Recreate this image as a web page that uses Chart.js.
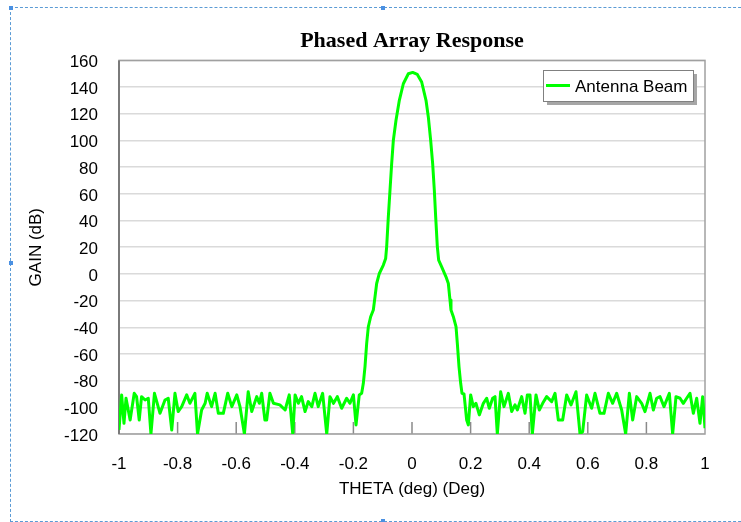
<!DOCTYPE html>
<html>
<head>
<meta charset="utf-8">
<script src="https://cdn.jsdelivr.net/npm/chart.js@4.4.1/dist/chart.umd.min.js"></script>
<style>
  html, body { margin: 0; padding: 0; background: #fff; }
  #wrap { position: relative; width: 741px; height: 522px; overflow: hidden; }
  canvas { position: absolute; left: 0; top: 0; }
  #frame { position: absolute; left: 10px; top: 7px; width: 760px; height: 513px;
           border-left: 1px dashed #5b9bd5; border-top: 1px dashed #5b9bd5; border-bottom: 1px dashed #5b9bd5; }
  .h { position: absolute; width: 4px; height: 4px; background: #4a90e2; }
</style>
</head>
<body>
<div id="wrap">
  <canvas id="c" width="741" height="522"></canvas>
  <div id="frame"></div>
  <div class="h" style="left:9px;top:6px"></div>
  <div class="h" style="left:381px;top:6px"></div>
  <div class="h" style="left:9px;top:261px"></div>
  <div class="h" style="left:381px;top:519px"></div>
</div>
<script>
// ---- data ----
const chartTitle = 'Phased Array Response';
const seriesLabel = 'Antenna Beam';
const xAxisTitle = 'THETA (deg) (Deg)';
const yAxisTitle = 'GAIN (dB)';
const yTickMin = -120, yTickMax = 160, yTickStep = 20;
const xTickMin = -1, xTickMax = 1, xTickStep = 0.2;

const thetaLeftNoise = [-1.000,-0.991,-0.983,-0.976,-0.962,-0.948,-0.940,-0.931,-0.923,-0.911,-0.900,-0.891,-0.879,-0.860,-0.843,-0.832,-0.820,-0.809,-0.798,-0.786,-0.769,-0.758,-0.741,-0.732,-0.718,-0.706,-0.699,-0.684,-0.672,-0.661,-0.644,-0.629,-0.615,-0.598,-0.587,-0.572,-0.559,-0.547,-0.530,-0.521,-0.513,-0.502,-0.496,-0.485,-0.473,-0.451,-0.433,-0.419,-0.407,-0.399,-0.388,-0.377,-0.365,-0.354,-0.342,-0.331,-0.320,-0.305,-0.291,-0.280,-0.268,-0.255,-0.240,-0.223,-0.212,-0.200,-0.191,-0.180];
const gainLeftNoise = [-117,-90.7,-112,-93.2,-109.5,-89.5,-92,-109.5,-92,-94.5,-93.2,-120,-89.5,-104.5,-94.5,-93.2,-117,-89.5,-103.2,-99.5,-90.7,-97,-89.5,-120,-102,-97,-89.5,-99.5,-89.5,-104.5,-104.5,-89.5,-99.5,-90.7,-99.5,-120,-88.3,-103.2,-92,-97,-89.5,-109.5,-109.5,-89.5,-97,-98.2,-102,-90.7,-120,-90.7,-97,-92,-103.2,-95.7,-99.5,-89.5,-99.5,-89.5,-120,-92,-97,-92,-100.7,-93.2,-97,-90.7,-113.2,-90.7];

const thetaMainLobe = [-0.1718,-0.1661,-0.1604,-0.1547,-0.1490,-0.1411,-0.1320,-0.1263,-0.1206,-0.1115,-0.0978,-0.0899,-0.0865,-0.0808,-0.0751,-0.0694,-0.0637,-0.0546,-0.0432,-0.0296,-0.0125,0.0023,0.0182,0.0330,0.0478,0.0557,0.0637,0.0705,0.0762,0.0808,0.0865,0.0910,0.1013,0.1160,0.1240,0.1297,0.1331,0.1411,0.1502,0.1547,0.1604,0.1661,0.1706];
const gainMainLobe = [-89.5,-82,-69.5,-52.1,-39.6,-32.1,-27.1,-17.2,-7.2,0.3,6.6,11.6,20.3,42.7,62.7,82.7,100.1,115.1,130.1,142.5,150,151,149.5,143.8,130.1,117.6,100.1,82.7,62.7,42.7,20.3,10.3,5.3,-2.2,-7.2,-19.6,-27.1,-32.1,-39.6,-52.1,-69.5,-82,-89.5];

const thetaRightNoise = [0.1775,0.1866,0.1923,0.2002,0.2093,0.2184,0.2298,0.2435,0.2548,0.2639,0.2753,0.2833,0.2912,0.3026,0.3140,0.3288,0.3402,0.3515,0.3595,0.3743,0.3857,0.3936,0.4027,0.4107,0.4232,0.4346,0.4460,0.4596,0.4767,0.4881,0.4994,0.5142,0.5279,0.5427,0.5597,0.5734,0.5825,0.5961,0.6132,0.6246,0.6416,0.6553,0.6701,0.6849,0.6985,0.7156,0.7292,0.7418,0.7531,0.7668,0.7838,0.7952,0.8123,0.8237,0.8350,0.8464,0.8601,0.8783,0.8896,0.9010,0.9147,0.9260,0.9374,0.9488,0.9602,0.9716,0.9829,0.9920,1.0000];
const gainRightNoise = [-90,-109.5,-113.2,-90.7,-99.5,-97,-105.7,-97,-93.2,-100.7,-93.2,-92,-120,-88.3,-99.5,-89.5,-103.2,-98.2,-102,-92,-104.5,-90.7,-90.7,-120,-90.7,-102,-97,-92,-95.7,-89.5,-109.5,-109.5,-90.7,-98.2,-88.3,-120,-118.2,-90.7,-100.7,-89.5,-104.5,-104.5,-89.5,-97,-89.5,-102,-120,-89.5,-109.5,-92,-97,-103.2,-89.5,-102,-93.2,-92,-99.5,-89.5,-120,-92,-93.2,-97,-93.2,-89.5,-104.5,-93.2,-112,-92,-115.7];

const thetaValues = [...thetaLeftNoise, ...thetaMainLobe, ...thetaRightNoise];
const gainValues = [...gainLeftNoise, ...gainMainLobe, ...gainRightNoise];
const points = thetaValues.map((t, i) => ({ x: t, y: gainValues[i] }));

const SANS = '"Liberation Sans", Arial, sans-serif';

const framePlugin = {
  id: 'frameAndTicks',
  beforeDatasetsDraw(chart) {
    const { ctx, chartArea: a, scales } = chart;
    ctx.save();
    // inner tick marks on the x axis
    ctx.strokeStyle = '#8a8a8a';
    ctx.lineWidth = 1.5;
    scales.x.ticks.forEach(t => {
      const px = scales.x.getPixelForValue(t.value);
      if (px <= a.left + 1 || px >= a.right - 1) return;
      ctx.beginPath();
      ctx.moveTo(px, a.bottom);
      ctx.lineTo(px, a.bottom - 12);
      ctx.stroke();
    });
    // plot frame
    ctx.strokeStyle = '#a0a0a0';
    ctx.lineWidth = 1.5;
    ctx.strokeRect(a.left, a.top, a.right - a.left, a.bottom - a.top);
    ctx.strokeStyle = '#7a7a7a';
    ctx.lineWidth = 2;
    ctx.beginPath();
    ctx.moveTo(a.left, a.top);
    ctx.lineTo(a.left, a.bottom);
    ctx.stroke();
    ctx.restore();
  },
  afterDraw(chart) {
    const { ctx } = chart;
    const ds = chart.data.datasets[0];
    const bx = 543, by = 70, bw = 150, bh = 31;
    ctx.save();
    ctx.fillStyle = '#a6a6a6';
    ctx.fillRect(bx + 4, by + 4, bw, bh);
    ctx.fillStyle = '#ffffff';
    ctx.fillRect(bx, by, bw, bh);
    ctx.strokeStyle = '#808080';
    ctx.lineWidth = 1;
    ctx.strokeRect(bx + 0.5, by + 0.5, bw, bh);
    ctx.strokeStyle = ds.borderColor;
    ctx.lineWidth = 3;
    ctx.beginPath();
    ctx.moveTo(bx + 3, by + 15.5);
    ctx.lineTo(bx + 27, by + 15.5);
    ctx.stroke();
    ctx.fillStyle = '#000';
    ctx.font = '17px ' + SANS;
    ctx.textBaseline = 'alphabetic';
    ctx.fillText(ds.label, bx + 32, by + 22);
    ctx.restore();
  }
};

new Chart(document.getElementById('c'), {
  type: 'line',
  data: {
    datasets: [{
      label: seriesLabel,
      data: points,
      borderColor: '#00ff00',
      borderWidth: 3,
      pointRadius: 0,
      tension: 0,
      fill: false,
      borderJoinStyle: 'round'
    }]
  },
  options: {
    responsive: false,
    animation: false,
    layout: { padding: { left: 26, right: 36, top: 0, bottom: 21 } },
    plugins: {
      legend: { display: false },
      tooltip: { enabled: false },
      title: {
        display: true,
        text: chartTitle,
        fullSize: false,
        color: '#000',
        font: { family: '"Liberation Serif", "Times New Roman", serif', size: 22, weight: 'bold' },
        padding: { top: 28, bottom: 6 }
      }
    },
    scales: {
      x: {
        type: 'linear',
        min: xTickMin, max: xTickMax,
        ticks: {
          stepSize: xTickStep,
          color: '#000',
          font: { family: SANS, size: 17 },
          padding: 20,
          callback: v => String(Math.round(v * 10) / 10)
        },
        grid: { display: false, drawTicks: false },
        border: { display: false },
        title: {
          display: true, text: xAxisTitle, color: '#000',
          font: { family: SANS, size: 17 },
          padding: { top: 0, bottom: 1 }
        },
        afterFit(s) { s.height = 67; }
      },
      y: {
        min: yTickMin, max: yTickMax,
        ticks: {
          stepSize: yTickStep,
          color: '#000',
          font: { family: SANS, size: 17 },
          padding: 21,
          labelOffset: 2
        },
        grid: { color: '#dadada', lineWidth: 1.5, drawTicks: false },
        border: { display: false },
        title: {
          display: true, text: yAxisTitle, color: '#000',
          font: { family: SANS, size: 17 },
          padding: { top: 0, bottom: 0 }
        },
        afterFit(s) { s.width = 93; }
      }
    }
  },
  plugins: [framePlugin]
});
</script>
</body>
</html>
